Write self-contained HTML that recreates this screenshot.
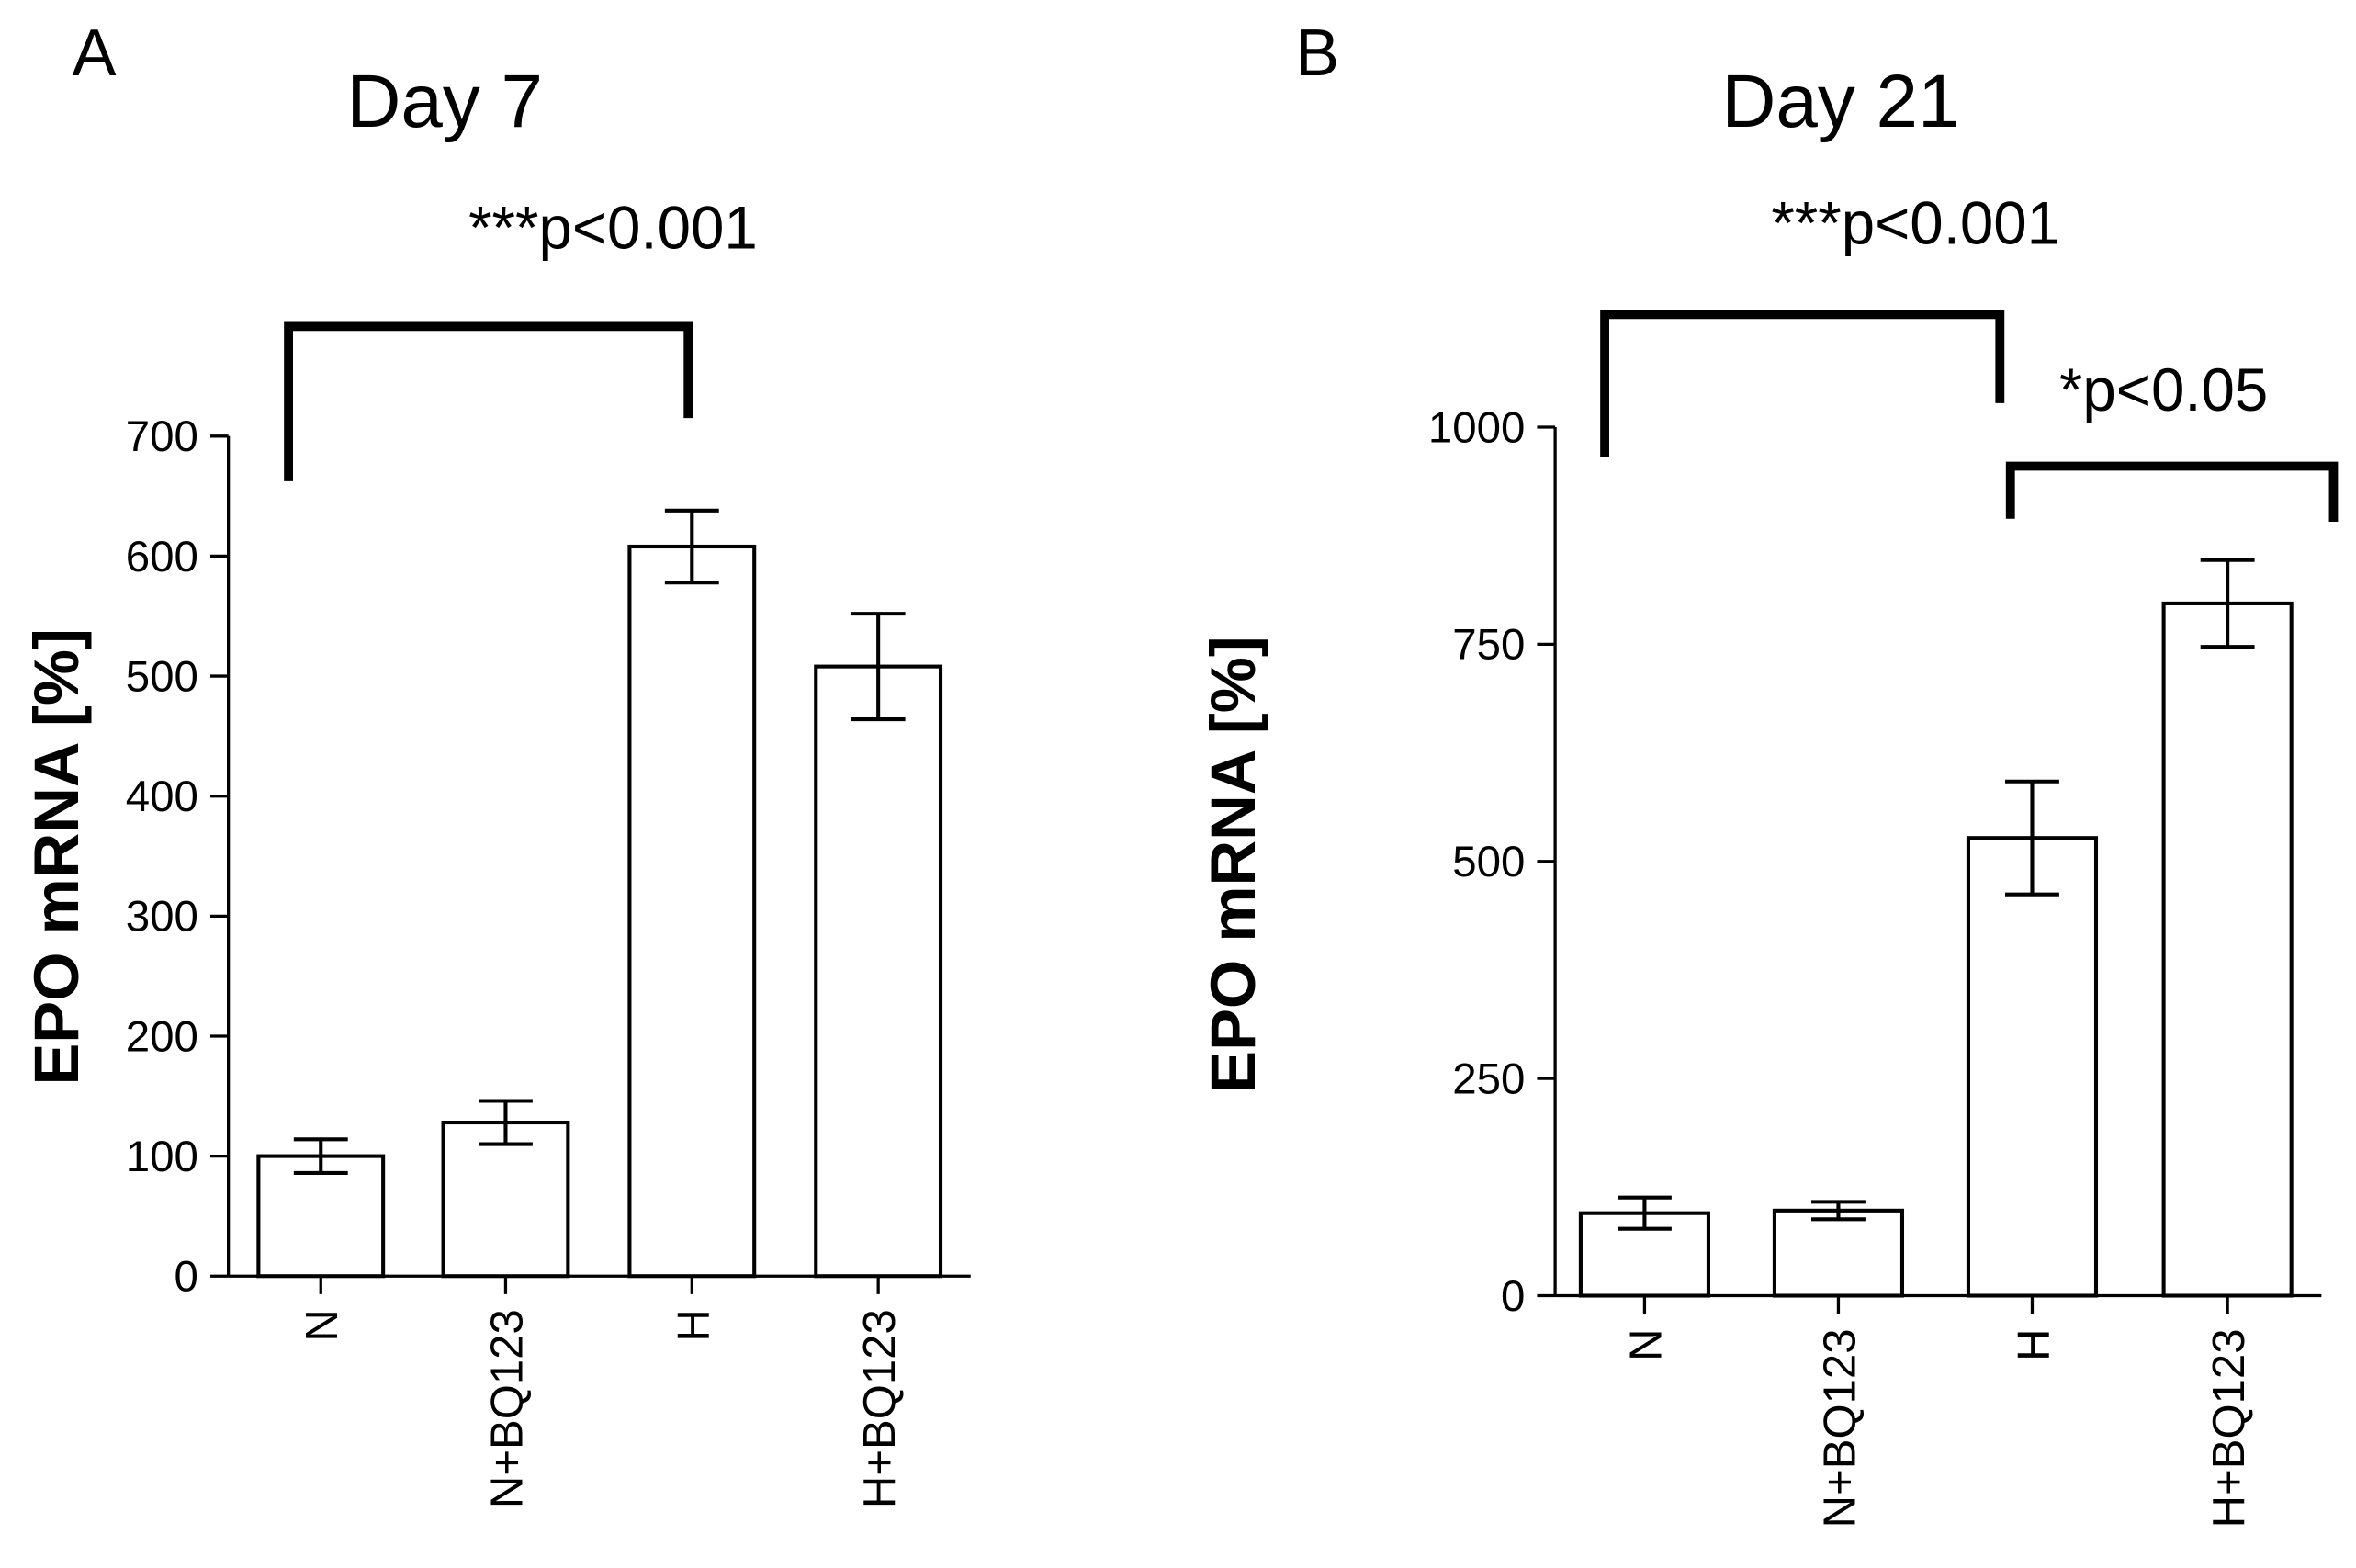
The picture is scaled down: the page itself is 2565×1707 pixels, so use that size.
<!DOCTYPE html>
<html><head><meta charset="utf-8"><style>
html,body{margin:0;padding:0;background:#fff;}
svg{display:block;}
text{font-family:"Liberation Sans",Arial,sans-serif;fill:#000;}
</style></head><body>
<svg id="chart" width="2565" height="1707" viewBox="0 0 1568 1043" xmlns="http://www.w3.org/2000/svg">
<g id="panelA"></g>
<g id="panelB"></g>
</svg>
<script>
const categories = ["N", "N+BQ123", "H", "H+BQ123"];
const day7Values = [100, 128, 608, 508];
const day7Errors = [14, 18, 30, 44];
const day7Ticks = [0, 100, 200, 300, 400, 500, 600, 700];
const day21Values = [95, 98, 527, 797];
const day21Errors = [18, 10, 65, 50];
const day21Ticks = [0, 250, 500, 750, 1000];

const NS = "http://www.w3.org/2000/svg";
function mk(parent, tag, attrs, txt){
  const e = document.createElementNS(NS, tag);
  for (const k in attrs) e.setAttribute(k, attrs[k]);
  if (txt !== undefined) e.textContent = txt;
  parent.appendChild(e);
  return e;
}

function drawPanel(g, cfg, values, errors, ticks){
  const y = v => cfg.y0 - (v / cfg.ymax) * (cfg.y0 - cfg.yTop);
  const ax = mk(g, "line", {x1:cfg.ax, y1:cfg.yTop, x2:cfg.ax, y2:cfg.y0, stroke:"#000","stroke-width":2});
  
  
  const xa = mk(g, "line", {x1:cfg.ax, y1:cfg.y0, x2:cfg.xEnd, y2:cfg.y0, stroke:"#000","stroke-width":2});
  
  
  ticks.forEach(t => {
    const tl = mk(g, "line", {x1:cfg.ax-12, y1:y(t), x2:cfg.ax, y2:y(t), stroke:"#000","stroke-width":2});
    
    
    const tx = mk(g, "text", {x:cfg.ax-20, y:y(t)+10, "text-anchor":"end","font-size":29}, String(t));
    
    
  });
  values.forEach((v, i) => {
    const x0 = cfg.barX[i], w = cfg.barW, cx = x0 + w/2;
    const b = mk(g, "rect", {x:x0, y:y(v), width:w, height:cfg.y0-y(v), fill:"#fff", stroke:"#000","stroke-width":2.5});
    
    
    const e = errors[i];
    const eg = mk(g, "path", {d:`M${cx},${y(v+e)}V${y(v-e)}M${cx-18},${y(v+e)}H${cx+18}M${cx-18},${y(v-e)}H${cx+18}`, stroke:"#000","stroke-width":2.5, fill:"none"});
    
    
    const tk = mk(g, "line", {x1:cx, y1:cfg.y0, x2:cx, y2:cfg.y0+12, stroke:"#000","stroke-width":2});
    
    
    const lb = mk(g, "text", {x:0, y:0, "text-anchor":"end","font-size":30, transform:`translate(${cx+11},${cfg.y0+22}) rotate(-90)`}, categories[i]);
    
    
  });
  const yt = mk(g, "text", {x:0, y:0, "text-anchor":"middle","font-size":42,"font-weight":"bold", transform:`translate(${cfg.titleX},${cfg.titleY}) rotate(-90)`}, "EPO mRNA [%]");
  
  
}

const A = document.getElementById("panelA");
drawPanel(A, {ax:152, y0:849, yTop:290, ymax:700, xEnd:646, barX:[172,295,419,543], barW:83, titleX:52, titleY:570}, day7Values, day7Errors, day7Ticks);
const B = document.getElementById("panelB");
drawPanel(B, {ax:1035, y0:862, yTop:284, ymax:1000, xEnd:1545, barX:[1052,1181,1310,1440], barW:85, titleX:835, titleY:575}, day21Values, day21Errors, day21Ticks);

function txt(g, name, x, y, s, size, anchor){
  const t = mk(g, "text", {x:x, y:y, "font-size":size, "text-anchor":anchor||"start"}, s);
  
  
}
function bracket(g, d){
  const p = mk(g, "path", {d:d, stroke:"#000","stroke-width":6, fill:"none"});
  
  
}
txt(A, "panel-label-a", 48, 50, "A", 44);
txt(A, "panel-title-day-7", 296, 84, "Day 7", 50, "middle");
txt(A, "significance-label", 408, 165, "***p<0.001", 40, "middle");
bracket(A, "M192,320V217H458V278");
txt(B, "panel-label-b", 862, 50, "B", 44);
txt(B, "panel-title-day-21", 1225, 84, "Day 21", 50, "middle");
txt(B, "significance-label", 1275, 162, "***p<0.001", 40, "middle");
txt(B, "significance-label-2", 1440, 273, "*p<0.05", 40, "middle");
bracket(B, "M1068,304V209H1331V268");
bracket(B, "M1338,345V310H1553V347");
</script>
</body></html>
